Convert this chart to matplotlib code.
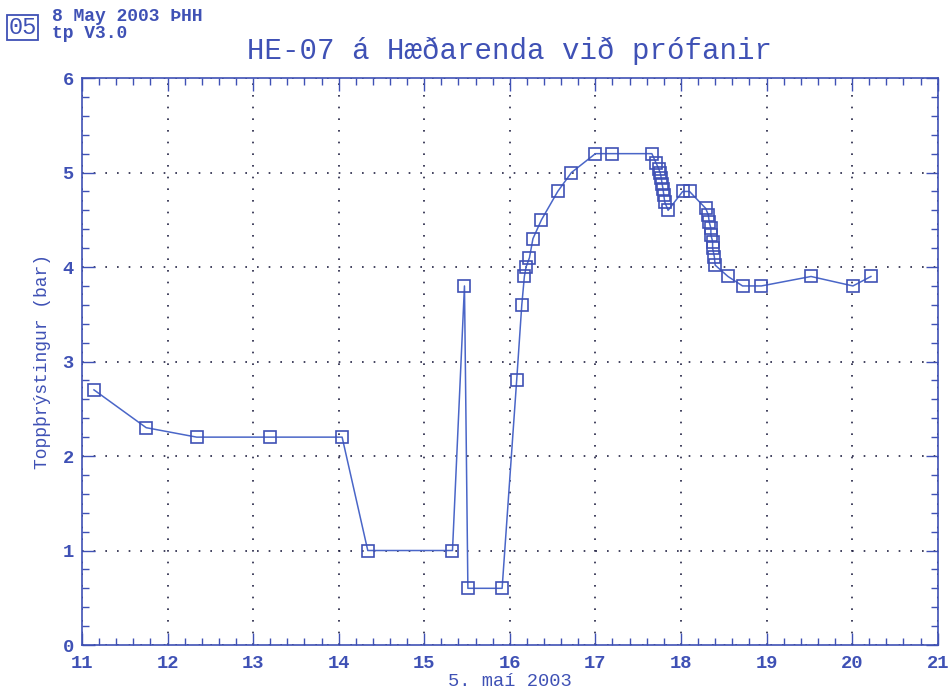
import matplotlib.pyplot as plt
from matplotlib.ticker import MultipleLocator

# datos (dia de mai 2003, bar)
dagur = [11.14, 11.75, 12.34, 13.2, 14.04, 14.34, 15.33, 15.47, 15.51, 15.91,
         16.08, 16.14, 16.17, 16.19, 16.23, 16.27, 16.37, 16.56, 16.72, 17.0,
         17.2, 17.66, 17.71, 17.74, 17.76, 17.77, 17.78, 17.79, 17.8, 17.81,
         17.85, 18.02, 18.1, 18.29, 18.32, 18.33, 18.35, 18.35, 18.37, 18.37,
         18.39, 18.4, 18.55, 18.72, 18.94, 19.52, 20.01, 20.22]
thrystingur = [2.7, 2.3, 2.2, 2.2, 2.2, 1.0, 1.0, 3.8, 0.6, 0.6,
               2.8, 3.6, 3.9, 4.0, 4.1, 4.3, 4.5, 4.8, 5.0, 5.2,
               5.2, 5.2, 5.1, 5.04, 4.99, 4.94, 4.88, 4.83, 4.76, 4.69,
               4.6, 4.8, 4.8, 4.62, 4.55, 4.48, 4.41, 4.34, 4.27, 4.2,
               4.11, 4.02, 3.9, 3.8, 3.8, 3.9, 3.8, 3.9]

blar = '#3f51b5'
lina = '#4a66c8'
plt.rcParams['font.family'] = ['Liberation Mono', 'DejaVu Sans Mono']
plt.rcParams['font.weight'] = 'bold'

fig = plt.figure(figsize=(9.5, 6.97), dpi=100)
ax = fig.add_axes([0.0863, 0.0746, 0.9007, 0.8134])

ax.plot(dagur, thrystingur, color=lina, lw=1.1, marker='s', markersize=9,
        markerfacecolor='none', markeredgecolor=blar, markeredgewidth=1.2)

ax.set_xlim(11, 21)
ax.set_ylim(0, 6)
ax.xaxis.set_major_locator(MultipleLocator(1))
ax.xaxis.set_minor_locator(MultipleLocator(0.2))
ax.yaxis.set_major_locator(MultipleLocator(1))
ax.yaxis.set_minor_locator(MultipleLocator(0.2))
ax.tick_params(which='both', direction='in', top=True, right=True, colors=blar,
               labelcolor=blar, labelsize=13.5)
ax.tick_params(which='major', length=9, width=1)
ax.tick_params(which='minor', length=5, width=1)
ax.tick_params(axis='x', which='major', pad=7)
ax.tick_params(axis='y', which='major', pad=6)
for s in ax.spines.values():
    s.set_color(blar)
    s.set_linewidth(1.2)
ax.grid(True, which='major', color='#222244', linestyle=(0, (1, 6)), lw=1.2)

ax.set_title('HE-07 á Hæðarenda við prófanir', color=blar, fontsize=21,
             fontweight='normal', pad=14)
ax.set_xlabel('5. maí 2003', color=blar, fontsize=13.5, labelpad=1)
ax.set_ylabel('Toppþrýstingur (bar)', color=blar, fontsize=13, labelpad=8)

# merki efst til vinstri
fig.text(0.009, 0.951, '05', color=blar, fontsize=17, fontweight='normal',
         bbox=dict(boxstyle='square,pad=0.05', fc='white', ec=blar, lw=1.3))
fig.text(0.055, 0.970, '8 May 2003 ÞHH', color=blar, fontsize=13)
fig.text(0.055, 0.946, 'tp V3.0', color=blar, fontsize=13)

fig.savefig('out.png', dpi=100)
